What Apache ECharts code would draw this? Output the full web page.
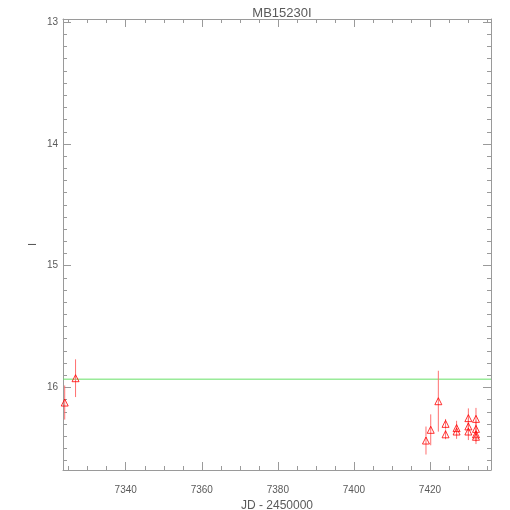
<!DOCTYPE html>
<html><head><meta charset="utf-8">
<script src="https://cdn.jsdelivr.net/npm/echarts@6/dist/echarts.min.js"></script>
<style>html,body{margin:0;padding:0;background:#fff}#c{width:510px;height:510px}</style>
</head><body><div id="c"></div>
<script>
// ---- data ----
const titleText = 'MB15230I';
const xName = 'JD - 2450000';
const yName = 'I';
const jd     = [7323.95, 7326.8, 7418.95, 7420.2, 7422.2, 7424.1, 7424.1, 7427.0, 7427.0, 7430.1, 7430.1, 7430.1, 7432.1, 7432.1, 7432.1, 7432.1];
const mag    = [16.124, 15.924, 16.436, 16.348, 16.113, 16.299, 16.385, 16.334, 16.362, 16.252, 16.32, 16.362, 16.258, 16.34, 16.385, 16.405];
const magErr = [0.14, 0.155, 0.115, 0.127, 0.25, 0.04, 0.04, 0.06, 0.06, 0.08, 0.07, 0.07, 0.09, 0.07, 0.06, 0.06];
const refMag = 15.932;
const xRange = [7323.5, 7436.05];
const yRange = [12.974, 16.678];
const yTickLabels = [13, 14, 15, 16];
const xTickLabels = [7340, 7360, 7380, 7400, 7420];
const xMajor = 20, xMinor = 5, yMajor = 1, yMinor = 0.1;

const axisGrey = '#9a9a9a';
const textGrey = '#5a5a5a';
const font = 'Liberation Sans';

function isMult(v, step) { return Math.abs(v / step - Math.round(v / step)) < 1e-6; }
function labelFor(list, step) {
  return v => {
    if (!isMult(v, step)) return '';
    const r = Math.round(v);
    return list.indexOf(r) >= 0 ? String(r) : '';
  };
}

function xAx(pos, step, len, opts) {
  return Object.assign({
    type: 'value', position: pos, gridIndex: 0,
    min: xRange[0], max: xRange[1],
    minInterval: step, maxInterval: step, splitNumber: Math.round((xRange[1]-xRange[0])/step),
    axisLine: { show: false, onZero: false, lineStyle: { color: axisGrey } },
    axisTick: { show: true, inside: true, length: len, lineStyle: { color: axisGrey, width: 1 } },
    axisLabel: { show: false },
    splitLine: { show: false }
  }, opts || {});
}
function yAx(pos, step, len, opts) {
  return Object.assign({
    type: 'value', position: pos, gridIndex: 0, inverse: true,
    min: yRange[0], max: yRange[1],
    minInterval: step, maxInterval: step, splitNumber: Math.round((yRange[1]-yRange[0])/step),
    axisLine: { show: false, onZero: false, lineStyle: { color: axisGrey } },
    axisTick: { show: true, inside: true, length: len, lineStyle: { color: axisGrey, width: 1 } },
    axisLabel: { show: false },
    splitLine: { show: false }
  }, opts || {});
}

const points = jd.map((x, i) => [x, mag[i], magErr[i]]);

const option = {
  backgroundColor: '#fff',
  animation: false,
  title: {
    text: titleText, left: 277, top: 2, textAlign: 'center',
    textStyle: { fontFamily: font, fontSize: 13, fontWeight: 'normal', color: textGrey }
  },
  grid: { left: 63, top: 19, width: 428, height: 451, containLabel: false, outerBoundsMode: 'none' },
  xAxis: [
    xAx('bottom', xMajor, 8, {
      axisLine: { show: true, onZero: false, lineStyle: { color: axisGrey } },
      axisLabel: { show: true, margin: 15, color: textGrey, fontFamily: font, fontSize: 10,
        hideOverlap: false, formatter: labelFor(xTickLabels, xMajor) },
      name: xName, nameLocation: 'middle', nameGap: 27,
      nameTextStyle: { color: textGrey, fontFamily: font, fontSize: 12 }
    }),
    xAx('bottom', xMinor, 4),
    xAx('top', xMajor, 8, { axisLine: { show: true, onZero: false, lineStyle: { color: axisGrey } } }),
    xAx('top', xMinor, 4)
  ],
  yAxis: [
    yAx('left', yMajor, 8, {
      axisLine: { show: true, onZero: false, lineStyle: { color: axisGrey } },
      axisLabel: { show: true, margin: 5, color: textGrey, fontFamily: font, fontSize: 10,
        hideOverlap: false, formatter: labelFor(yTickLabels, yMajor) },
      name: yName, nameLocation: 'middle', nameGap: 25, nameRotate: 90, nameMoveOverlap: false,
      nameTextStyle: { color: textGrey, fontFamily: font, fontSize: 11 }
    }),
    yAx('left', yMinor, 4),
    yAx('right', yMajor, 8, { axisLine: { show: true, onZero: false, lineStyle: { color: axisGrey } } }),
    yAx('right', yMinor, 4)
  ],
  series: [
    {
      type: 'line', xAxisIndex: 0, yAxisIndex: 0, z: 1,
      data: [[xRange[0], refMag], [xRange[1], refMag]],
      symbol: 'none', silent: true,
      lineStyle: { color: '#66e066', width: 1, type: 'solid' }
    },
    {
      type: 'custom', xAxisIndex: 0, yAxisIndex: 0, z: 2,
      data: points,
      encode: { x: 0, y: 1 },
      renderItem: function (params, api) {
        const x = api.value(0), y = api.value(1), e = api.value(2);
        const p1 = api.coord([x, y - e]);
        const p2 = api.coord([x, y + e]);
        return {
          type: 'line',
          shape: { x1: p1[0], y1: p1[1], x2: p2[0], y2: p2[1] },
          style: { stroke: '#ff7070', lineWidth: 1 }
        };
      }
    },
    {
      type: 'scatter', xAxisIndex: 0, yAxisIndex: 0, z: 3,
      data: points.map(p => [p[0], p[1]]),
      symbol: 'triangle', symbolSize: [7, 7],
      itemStyle: { color: 'rgba(0,0,0,0)', borderColor: '#ff0000', borderWidth: 1 }
    }
  ]
};

echarts.init(document.getElementById('c'), null, { renderer: 'canvas' }).setOption(option);
</script>
</body></html>
